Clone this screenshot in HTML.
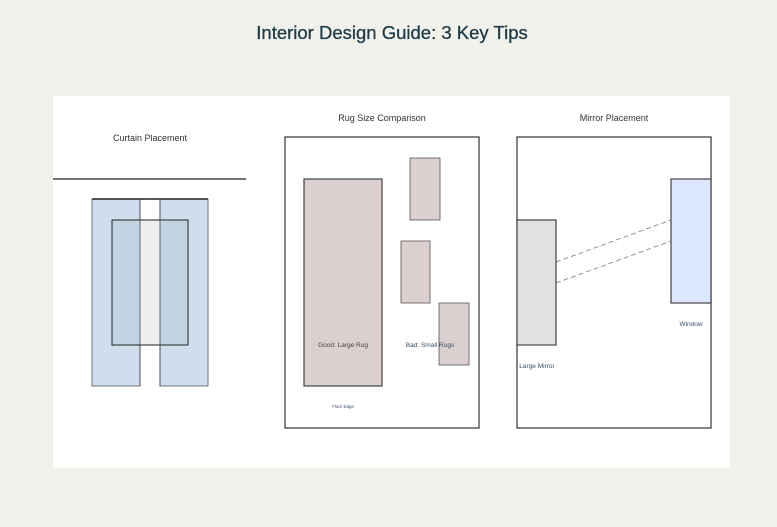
<!DOCTYPE html>
<html><head><style>
body{margin:0;width:777px;height:522px;background:#f1f1ec;overflow:hidden;font-family:"Liberation Sans",sans-serif}
</style></head><body>
<svg width="777" height="522" xmlns="http://www.w3.org/2000/svg" font-family="Liberation Sans, sans-serif">
<rect width="777" height="522" fill="#f1f1ec"/>
<text x="392" y="39" text-anchor="middle" font-size="18.5" fill="#1e3a46" stroke="#1e3a46" stroke-width="0.3">Interior Design Guide: 3 Key Tips</text>
<rect x="53" y="96" width="677" height="372" fill="#fff"/>
<text x="150" y="141" text-anchor="middle" font-size="9" fill="#333">Curtain Placement</text>
<line x1="53" y1="179" x2="246" y2="179" stroke="#222" stroke-width="1.3"/>
<rect x="92" y="199" width="48" height="187" fill="#cfdeec" stroke="#555" stroke-width="0.8"/>
<rect x="160" y="199" width="48" height="187" fill="#cfdeec" stroke="#555" stroke-width="0.8"/>
<rect x="140" y="220" width="20" height="125" fill="#eee"/>
<rect x="112" y="220" width="28" height="125" fill="#c2d3e2"/>
<rect x="160" y="220" width="28" height="125" fill="#c2d3e2"/>
<rect x="112" y="220" width="76" height="125" fill="none" stroke="#222" stroke-width="1"/>
<line x1="140" y1="199" x2="140" y2="386" stroke="#444" stroke-width="0.8"/>
<line x1="160" y1="199" x2="160" y2="386" stroke="#444" stroke-width="0.8"/>
<line x1="92" y1="199" x2="208" y2="199" stroke="#222" stroke-width="1.6"/>
<text x="382" y="121" text-anchor="middle" font-size="9" fill="#333">Rug Size Comparison</text>
<rect x="285" y="137" width="194" height="291" fill="none" stroke="#333" stroke-width="1.2"/>
<rect x="304" y="179" width="78" height="207" fill="#dccfcf" stroke="#444" stroke-width="1.2"/>
<rect x="410" y="158" width="30" height="62" fill="#dccfcf" stroke="#555" stroke-width="0.8"/>
<rect x="401" y="241" width="29" height="62" fill="#dccfcf" stroke="#555" stroke-width="0.8"/>
<rect x="439" y="303" width="30" height="62" fill="#dccfcf" stroke="#555" stroke-width="0.8"/>
<text x="343" y="347" text-anchor="middle" font-size="6.5" fill="#444">Good: Large Rug</text>
<text x="430" y="347" text-anchor="middle" font-size="6.5" fill="#3a4f66">Bad: Small Rugs</text>
<text x="343" y="408" text-anchor="middle" font-size="4.5" fill="#3a4f66">Floor Edge</text>
<text x="614" y="121" text-anchor="middle" font-size="9" fill="#333">Mirror Placement</text>
<rect x="517" y="137" width="194" height="291" fill="none" stroke="#333" stroke-width="1.2"/>
<rect x="517" y="220" width="39" height="125" fill="#e1e1e1" stroke="#333" stroke-width="1.1"/>
<rect x="671" y="179" width="40" height="124" fill="#dde8fc" stroke="#333" stroke-width="1.1"/>
<line x1="556" y1="262" x2="671" y2="220" stroke="#666" stroke-width="0.7" stroke-dasharray="5,3"/>
<line x1="556" y1="283" x2="671" y2="241" stroke="#666" stroke-width="0.7" stroke-dasharray="5,3"/>
<text x="537" y="368" text-anchor="middle" font-size="6.5" fill="#3a4f66">Large Mirror</text>
<text x="691" y="326" text-anchor="middle" font-size="6.5" fill="#3a4f66">Window</text>
</svg>
</body></html>
